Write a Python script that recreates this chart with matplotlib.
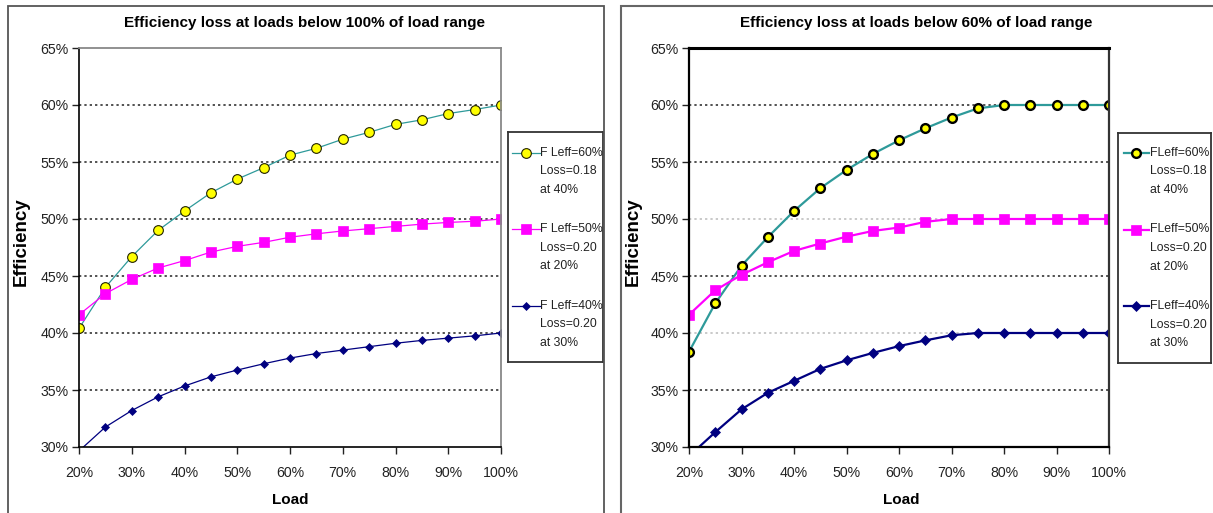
import matplotlib
matplotlib.use("Agg")
import matplotlib.pyplot as plt
import matplotlib.ticker as mtick
from matplotlib.patches import Rectangle

plt.rcParams['font.family'] = ['Liberation Sans', 'DejaVu Sans']

# Load axis (percent)
loads = [20, 25, 30, 35, 40, 45, 50, 55, 60, 65, 70, 75, 80, 85, 90, 95, 100]

# left chart: loss below 100% of load range
left_fl60 = [40.4, 44.0, 46.7, 49.0, 50.7, 52.3, 53.5, 54.5, 55.6, 56.2, 57.0, 57.6, 58.3, 58.7, 59.25, 59.6, 60.0]
left_fl50 = [41.6, 43.45, 44.7, 45.7, 46.35, 47.1, 47.6, 47.95, 48.4, 48.7, 48.95, 49.15, 49.35, 49.55, 49.7, 49.8, 50.0]
left_fl40 = [29.65, 31.75, 33.2, 34.4, 35.35, 36.15, 36.75, 37.3, 37.8, 38.2, 38.5, 38.8, 39.1, 39.35, 39.55, 39.75, 40.0]

# right chart: loss below 60% of load range
right_fl60 = [38.35, 42.6, 45.9, 48.4, 50.7, 52.7, 54.3, 55.7, 56.9, 57.95, 58.9, 59.7, 60.0, 60.0, 60.0, 60.0, 60.0]
right_fl50 = [41.6, 43.75, 45.1, 46.2, 47.2, 47.85, 48.45, 48.95, 49.25, 49.75, 50.0, 50.0, 50.0, 50.0, 50.0, 50.0, 50.0]
right_fl40 = [29.2, 31.3, 33.3, 34.75, 35.8, 36.85, 37.6, 38.25, 38.85, 39.35, 39.8, 40.0, 40.0, 40.0, 40.0, 40.0, 40.0]

left_labels = ["F Leff=60%\nLoss=0.18\nat 40%", "F Leff=50%\nLoss=0.20\nat 20%", "F Leff=40%\nLoss=0.20\nat 30%"]
right_labels = ["FLeff=60%\nLoss=0.18\nat 40%", "FLeff=50%\nLoss=0.20\nat 20%", "FLeff=40%\nLoss=0.20\nat 30%"]

W, H = 1213, 513
fig = plt.figure(figsize=(W / 100, H / 100), dpi=100)


def rect_px(x0, y0, x1, y1):
    return [x0 / W, 1 - y1 / H, (x1 - x0) / W, (y1 - y0) / H]


# outer panel frames
fig.patches.append(Rectangle((8 / W, -0.1), (604 - 8) / W, 1.1 - 6 / H, transform=fig.transFigure,
                             fill=False, ec='#555555', lw=1.3))
fig.patches.append(Rectangle((621 / W, -0.1), 0.6, 1.1 - 6 / H, transform=fig.transFigure,
                             fill=False, ec='#666666', lw=1.5))


def chart(box, title, titlex, series, labels, leg_box, thick, xlab_x, ylab_x):
    ax = fig.add_axes(rect_px(*box))
    lw = 1.6 if thick else 0.9
    styles = [
        dict(color='#2E9A9A', marker='o', mfc='#FFFF00', mec='#222200' if not thick else 'black',
             ms=7 if not thick else 6.3, mew=0.8 if not thick else 1.7),
        dict(color='#FF00FF', marker='s', mfc='#FF00FF', mec='#FF00FF', ms=6.8 if not thick else 7.3, mew=0.5),
        dict(color='#000080', marker='D', mfc='#000080', mec='#000080', ms=4.3 if not thick else 4.8, mew=0.5),
    ]
    for vals, st in zip(series, styles):
        visible = [i for i, v in enumerate(vals) if v >= 30]
        ax.plot(loads, vals, lw=lw, markevery=visible, **st)

    ax.set_xlim(20, 100)
    ax.set_ylim(30, 65)
    ax.set_xticks(range(20, 101, 10))
    ax.set_yticks(range(30, 66, 5))
    ax.xaxis.set_major_formatter(mtick.FormatStrFormatter('%d%%'))
    ax.yaxis.set_major_formatter(mtick.FormatStrFormatter('%d%%'))
    ax.tick_params(direction='out', length=5, width=1, labelsize=10.2, colors='#222222')
    ax.tick_params(axis='y', pad=2.5)
    ax.tick_params(axis='x', pad=9)

    for y in range(35, 65, 5):
        light = thick and y in (40, 50)
        ax.axhline(y, color='#BBBBBB' if light else '#222222', lw=1.1, ls=(0, (1.5, 2.0)), zorder=0.5)

    ax.spines['left'].set_color('black')
    ax.spines['bottom'].set_color('black')
    if thick:
        ax.spines['top'].set_color('black')
        ax.spines['top'].set_linewidth(2.2)
        ax.spines['right'].set_color('#333333')
        ax.spines['right'].set_linewidth(1.6)
        ax.spines['left'].set_linewidth(1.6)
        ax.spines['bottom'].set_linewidth(1.6)
    else:
        ax.spines['top'].set_color('#888888')
        ax.spines['right'].set_color('#888888')
        ax.spines['top'].set_linewidth(1.3)
        ax.spines['right'].set_linewidth(1.3)
        ax.spines['left'].set_linewidth(1.2)
        ax.spines['bottom'].set_linewidth(1.2)

    fig.text(titlex / W, 1 - 23 / H, title, ha='center', va='center', fontsize=11, fontweight='bold')
    fig.text(xlab_x / W, 1 - 500 / H, 'Load', ha='center', va='center', fontsize=11, fontweight='bold')
    fig.text(ylab_x / W, 1 - 242 / H, 'Efficiency', ha='center', va='center', rotation=90,
             fontsize=13.5, fontweight='bold')

    # legend box drawn in pixel units so the handle sits on the first text line
    x0, y0, x1, y1, hx0, hx1, tx = leg_box
    lax = fig.add_axes(rect_px(x0, y0, x1, y1))
    lax.set_xlim(x0, x1)
    lax.set_ylim(y1, y0)
    lax.set_xticks([])
    lax.set_yticks([])
    for sp in lax.spines.values():
        sp.set_color('#333333')
        sp.set_linewidth(1.3)
    for k, (lab, st) in enumerate(zip(labels, styles)):
        ey = 153 + 76.5 * k
        lax.plot([hx0, hx1], [ey, ey], color=st['color'], lw=lw, clip_on=False)
        lax.plot([(hx0 + hx1) / 2], [ey], ls='none', clip_on=False,
                 **{kk: v for kk, v in st.items() if kk != 'color'})
        for j, line in enumerate(lab.split('\n')):
            lax.text(tx, ey + 18.5 * j, line, ha='left', va='center', fontsize=8.8, color='#222222')
    return ax


chart((79, 48, 501, 447), 'Efficiency loss at loads below 100% of load range', 304,
      [left_fl60, left_fl50, left_fl40], left_labels,
      (508, 132, 603, 362, 512, 540, 540), False, 290, 21)
chart((689, 48, 1109, 447), 'Efficiency loss at loads below 60% of load range', 916,
      [right_fl60, right_fl50, right_fl40], right_labels,
      (1118, 133, 1211, 363, 1124, 1149, 1150), True, 901, 633)

fig.savefig('out.png', dpi=100)
